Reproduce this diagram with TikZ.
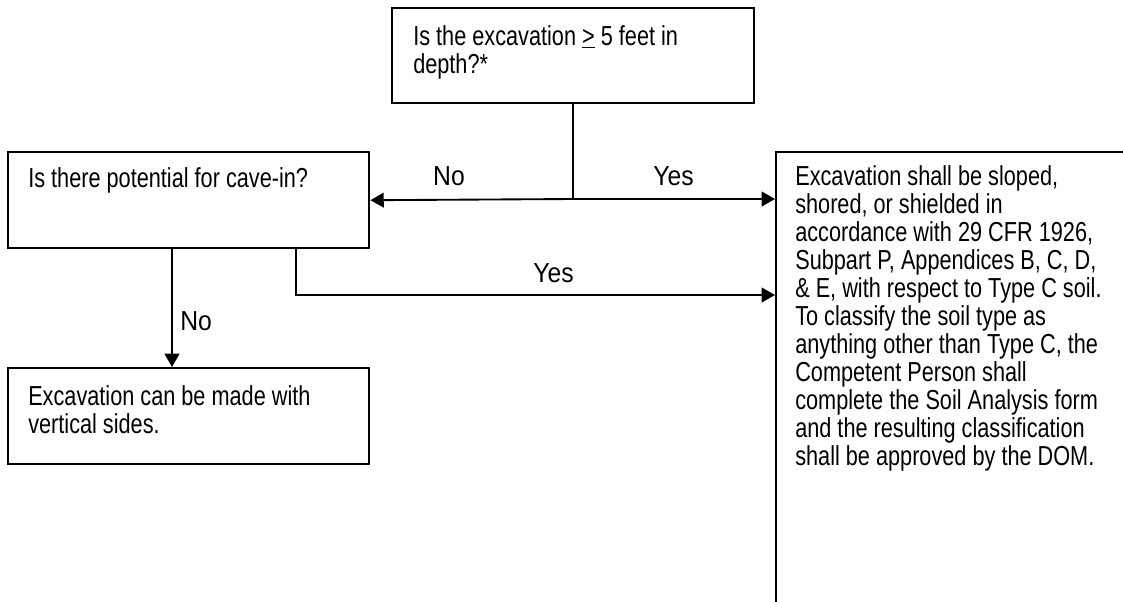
\documentclass[tikz,border=0pt]{standalone}
\usepackage{fontspec}
\setmainfont{Liberation Sans}[FakeStretch=0.79]
\newfontfamily\lblfamily{Liberation Sans}[FakeStretch=0.9]
\usetikzlibrary{arrows.meta}
\newcommand\boxfont{\fontsize{20.6pt}{21pt}\selectfont}
\newcommand\lblfont{\lblfamily\fontsize{20.6pt}{21pt}\selectfont}
\begin{document}
\begin{tikzpicture}[x=0.75pt,y=-0.75pt,
  box/.style={draw=black,line width=1.8pt,rectangle,inner sep=0pt},
  txt/.style={font=\boxfont,align=left,inner sep=0pt,anchor=north west},
  lbl/.style={font=\lblfont,inner sep=0pt},
  conn/.style={draw=black,line width=1.4pt},
  arr/.style={conn,-{Triangle[length=10pt,width=11pt]}}]
\clip (0,0) rectangle (1123,601);
% boxes
\node[box,anchor=north west,minimum width=271.5pt,minimum height=71.25pt] (q1) at (391,7) {};
\node[box,anchor=north west,minimum width=270.75pt,minimum height=72pt] (q2) at (7,151) {};
\node[box,anchor=north west,minimum width=270.75pt,minimum height=72pt] (r1) at (7,367) {};
\node[box,anchor=north west,minimum width=300pt,minimum height=400pt] (r2) at (775,151) {};
% texts
\node[txt] (t1) at (413,25) {Is the excavation \underline{>} 5 feet in\\depth?*};
\node[txt] (t2) at (28,167) {Is there potential for cave-in?};
\node[txt] (t3) at (28,385) {Excavation can be made with\\vertical sides.};
\node[txt] (t4) at (795,165) {Excavation shall be sloped,\\shored, or shielded in\\accordance with 29 CFR 1926,\\Subpart P, Appendices B, C, D,\\\& E, with respect to Type C soil.\\To classify the soil type as\\anything other than Type C, the\\Competent Person shall\\complete the Soil Analysis form\\and the resulting classification\\shall be approved by the DOM.};
% connectors
\coordinate (jy) at (0,199);
\coordinate (j) at (q1.south |- jy);
\coordinate (s1) at (172,0);
\coordinate (s2) at (296,0);
\coordinate (hy) at (0,295);
\draw[conn] (q1.south) -- (j);
\draw[arr] (j) -- (q2.east);
\draw[arr] (j) -- (j -| r2.west);
\draw[arr] (q2.south -| s1) -- (r1.north -| s1);
\draw[arr] (q2.south -| s2) |- (r2.west |- hy);
% labels
\node[lbl,anchor=base] (l1) at (449,185) {No};
\node[lbl,anchor=base] (l2) at (673.5,185) {Yes};
\node[lbl,anchor=base west] (l3) at (180,330) {No};
\node[lbl,anchor=base] (l4) at (553.5,282) {Yes};
\end{tikzpicture}
\end{document}
